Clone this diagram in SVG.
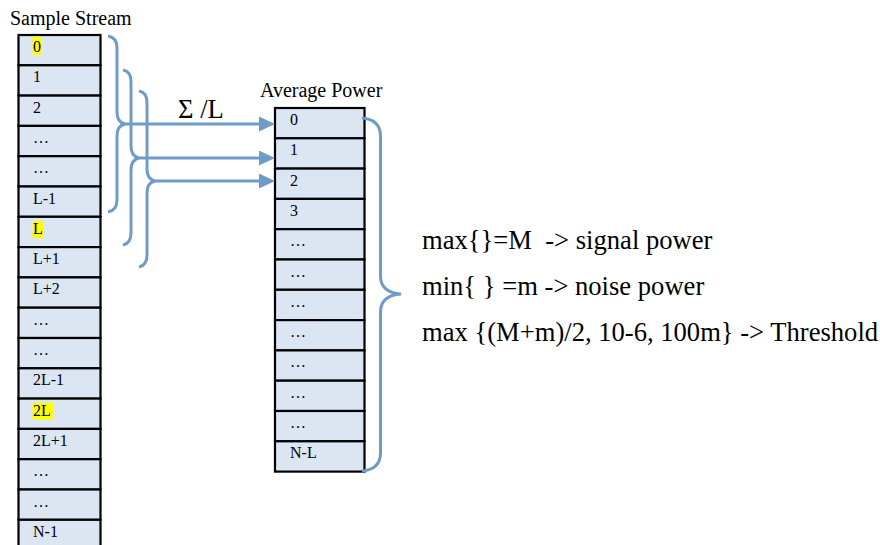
<svg xmlns="http://www.w3.org/2000/svg" width="880" height="545" viewBox="0 0 880 545">
<style>
text{font-family:"Liberation Serif","Times New Roman",serif;fill:#000}
.cell{fill:#DCE6F2;stroke:#000;stroke-width:2.2}
.lbl{font-size:16px}
.hd{font-size:20px}
.big{font-size:26.6px}
.hl{fill:#FFFF00}
.con{fill:none;stroke:#6E9BC8;stroke-width:3}
</style>
<defs>
<marker id="ah" markerUnits="userSpaceOnUse" markerWidth="16" markerHeight="16" refX="7" refY="7.5" orient="auto">
<path d="M0,0 L16,7.5 L0,15 z" fill="#6E9BC8"/>
</marker>
</defs>
<text class="hd" x="10" y="25">Sample Stream</text>
<text class="hd" x="260" y="97">Average Power</text>
<g id="sample-stream">
<rect class="cell" x="18.5" y="35" width="82" height="30.3"/>
<rect class="cell" x="18.5" y="65.3" width="82" height="30.3"/>
<rect class="cell" x="18.5" y="95.6" width="82" height="30.3"/>
<rect class="cell" x="18.5" y="125.9" width="82" height="30.3"/>
<rect class="cell" x="18.5" y="156.2" width="82" height="30.3"/>
<rect class="cell" x="18.5" y="186.5" width="82" height="30.3"/>
<rect class="cell" x="18.5" y="216.8" width="82" height="30.3"/>
<rect class="cell" x="18.5" y="247.1" width="82" height="30.3"/>
<rect class="cell" x="18.5" y="277.4" width="82" height="30.3"/>
<rect class="cell" x="18.5" y="307.7" width="82" height="30.3"/>
<rect class="cell" x="18.5" y="338" width="82" height="30.3"/>
<rect class="cell" x="18.5" y="368.3" width="82" height="30.3"/>
<rect class="cell" x="18.5" y="398.6" width="82" height="30.3"/>
<rect class="cell" x="18.5" y="428.9" width="82" height="30.3"/>
<rect class="cell" x="18.5" y="459.2" width="82" height="30.3"/>
<rect class="cell" x="18.5" y="489.5" width="82" height="30.3"/>
<rect class="cell" x="18.5" y="519.8" width="82" height="30.3"/>
<rect class="hl" x="32.5" y="36.5" width="9" height="18.5"/>
<rect class="hl" x="32.5" y="221" width="11" height="17"/>
<rect class="hl" x="32.5" y="402.6" width="20.5" height="17"/>
<text class="lbl" x="33" y="52">0</text>
<text class="lbl" x="33" y="82.3">1</text>
<text class="lbl" x="33" y="112.6">2</text>
<text class="lbl" x="33" y="142.9">…</text>
<text class="lbl" x="33" y="173.2">…</text>
<text class="lbl" x="33" y="203.5">L-1</text>
<text class="lbl" x="33" y="233.8">L</text>
<text class="lbl" x="33" y="264.1">L+1</text>
<text class="lbl" x="33" y="294.4">L+2</text>
<text class="lbl" x="33" y="324.7">…</text>
<text class="lbl" x="33" y="355">…</text>
<text class="lbl" x="33" y="385.3">2L-1</text>
<text class="lbl" x="33" y="415.6">2L</text>
<text class="lbl" x="33" y="445.9">2L+1</text>
<text class="lbl" x="33" y="476.2">…</text>
<text class="lbl" x="33" y="506.5">…</text>
<text class="lbl" x="33" y="536.8">N-1</text>
</g>
<g id="average-power">
<rect class="cell" x="275" y="108" width="89.5" height="30.3"/>
<rect class="cell" x="275" y="138.3" width="89.5" height="30.3"/>
<rect class="cell" x="275" y="168.6" width="89.5" height="30.3"/>
<rect class="cell" x="275" y="198.9" width="89.5" height="30.3"/>
<rect class="cell" x="275" y="229.2" width="89.5" height="30.3"/>
<rect class="cell" x="275" y="259.5" width="89.5" height="30.3"/>
<rect class="cell" x="275" y="289.8" width="89.5" height="30.3"/>
<rect class="cell" x="275" y="320.1" width="89.5" height="30.3"/>
<rect class="cell" x="275" y="350.4" width="89.5" height="30.3"/>
<rect class="cell" x="275" y="380.7" width="89.5" height="30.3"/>
<rect class="cell" x="275" y="411" width="89.5" height="30.3"/>
<rect class="cell" x="275" y="441.3" width="89.5" height="30.3"/>
<text class="lbl" x="290" y="125">0</text>
<text class="lbl" x="290" y="155.3">1</text>
<text class="lbl" x="290" y="185.6">2</text>
<text class="lbl" x="290" y="215.9">3</text>
<text class="lbl" x="290" y="246.2">…</text>
<text class="lbl" x="290" y="276.5">…</text>
<text class="lbl" x="290" y="306.8">…</text>
<text class="lbl" x="290" y="337.1">…</text>
<text class="lbl" x="290" y="367.4">…</text>
<text class="lbl" x="290" y="397.7">…</text>
<text class="lbl" x="290" y="428">…</text>
<text class="lbl" x="290" y="458.3">N-L</text>
</g>
<g id="connectors">
<path class="con" d="M108,36 C114,37 117,41 117,48 L117,112 C117,119 120,123 125,124 C120,125 117,129 117,136 L117,200 C117,207 114,211 108,212"/>
<path class="con" d="M123,70 C129,71 131,75 131,82 L131,146 C131,153 134,157 139,158 C134,159 131,163 131,170 L131,233 C131,240 128,244 123,245"/>
<path class="con" d="M139,91 C145,92 147,96 147,103 L147,169 C147,176 150,180 155,181 C150,182 147,186 147,193 L147,255 C147,262 144,266 139,267"/>
<path class="con" d="M362,118 C373,119 380.5,124 380.5,136 L380.5,276 C380.5,287 388,293 401,294 C388,295 380.5,301 380.5,312 L380.5,453 C380.5,465 373,470 362,471"/>
<line class="con" x1="125" y1="124" x2="266" y2="124" marker-end="url(#ah)"/>
<line class="con" x1="139" y1="158" x2="266" y2="158" marker-end="url(#ah)"/>
<line class="con" x1="155" y1="181" x2="266" y2="181" marker-end="url(#ah)"/>
<text class="big" x="178" y="118">Σ /L</text>
</g>
<g id="formulas">
<text class="big" x="422" y="249" xml:space="preserve">max{}=M  -&gt; signal power</text>
<text class="big" x="422" y="295">min{ } =m -&gt; noise power</text>
<text class="big" x="422" y="341">max {(M+m)/2, 10-6, 100m} -&gt; Threshold</text>
</g>
</svg>
